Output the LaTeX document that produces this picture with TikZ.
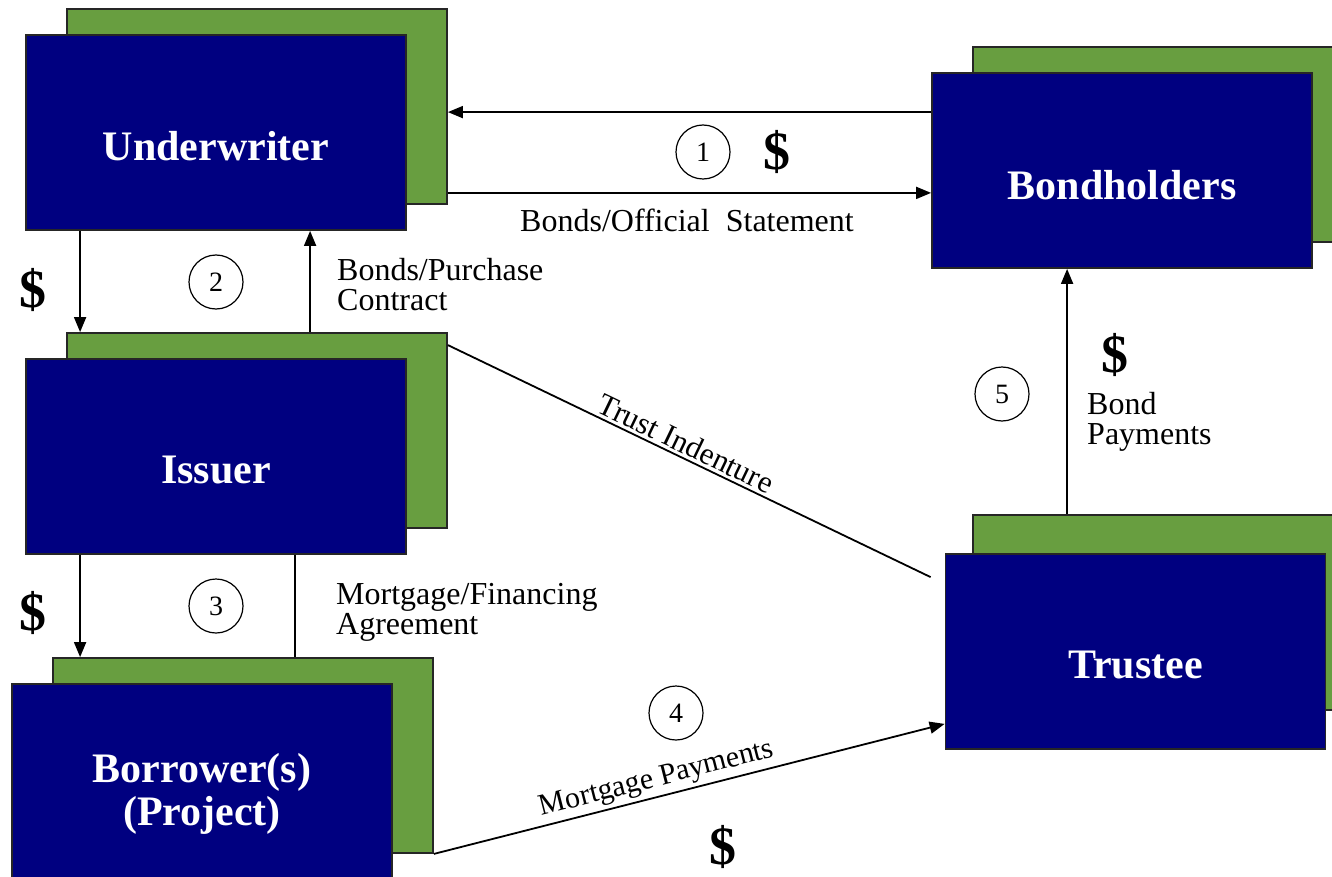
\documentclass[tikz,border=0pt]{standalone}
\usepackage{fontspec}
\setmainfont{Liberation Serif}
\usetikzlibrary{arrows.meta}
\definecolor{navybox}{RGB}{0,0,128}
\definecolor{greenbox}{RGB}{104,158,64}
\tikzset{
  frontbox/.style={draw=black!85, line width=1.8pt, fill=navybox, minimum width=380pt, minimum height=195pt, inner sep=0pt},
  backbox/.style={draw=black!85, line width=1.8pt, fill=greenbox, minimum width=380pt, minimum height=195pt, inner sep=0pt},
  boxtext/.style={text=white, font=\fontsize{42}{43}\selectfont\bfseries, align=center, inner sep=0pt},
  lbl/.style={font=\fontsize{32}{30}\selectfont, align=left, inner sep=0pt},
  dollar/.style={font=\fontsize{54}{54}\selectfont\bfseries, inner sep=0pt},
  numc/.style={draw, circle, line width=1.2pt, minimum size=54pt, inner sep=0pt, font=\fontsize{28}{28}\selectfont},
  conn/.style={line width=1.8pt, draw=black},
  arr/.style={conn, -{Triangle[length=15pt,width=12pt]}}
}
\begin{document}
\begin{tikzpicture}[x=1pt,y=-1pt]
\useasboundingbox (0,0) rectangle (1332,877);
\clip (0,0) rectangle (1332,877);
% boxes
\node[backbox] (uwg) at (257,106.5) {};
\node[frontbox] (uw) at (216,132.5) {};
\node[boxtext] (uwt) at (216,146) {Underwriter};
\node[backbox] (bhg) at (1163,144.5) {};
\node[frontbox] (bh) at (1122,170.5) {};
\node[boxtext] (bht) at (1122,185) {Bondholders};
\node[backbox] (isg) at (257,430.5) {};
\node[frontbox] (is) at (216,456.5) {};
\node[boxtext] (ist) at (216,470) {Issuer};
\node[backbox] (bog) at (243,755.5) {};
\node[frontbox] (bo) at (202,781.5) {};
\node[boxtext] (bot) at (202,794) {Borrower(s)\\(Project)};
\node[backbox] (trg) at (1163,612.5) {};
\node[frontbox] (tr) at (1135.5,651.5) {};
\node[boxtext] (trt) at (1135.5,665) {Trustee};
% connectors
\draw[arr] ([yshift=-40pt]bh.north west) -- ([yshift=-40pt]bh.north west -| uwg.east);
\draw[arr] ([yshift=12pt]uwg.south east) -- ([yshift=12pt]uwg.south east -| bh.west);
\draw[arr] ([xshift=55pt]uw.south west) -- ([xshift=55pt]uw.south west |- isg.north);
\draw[arr] ([xshift=285pt]uw.south west |- isg.north) -- ([xshift=285pt]uw.south west);
\draw[arr] ([xshift=55pt]is.south west) -- ([xshift=55pt]is.south west |- bog.north);
\draw[conn] ([xshift=270pt]is.south west) -- ([xshift=270pt]is.south west |- bog.north);
\draw[conn] ([yshift=-13pt]isg.north east) -- node[sloped, above, pos=0.48, inner sep=3pt, font=\fontsize{31}{31}\selectfont] (tilbl) {Trust Indenture} ([xshift=-14pt,yshift=-24pt]tr.north west);
\draw[arr] (bog.south east) -- node[sloped, above, pos=0.445, inner sep=3pt, font=\fontsize{30}{30}\selectfont] (mplbl) {Mortgage Payments} ([yshift=26pt]tr.south west);
\draw[arr] ([xshift=136pt]bh.south west |- trg.north) -- ([xshift=136pt]bh.south west);
% number circles
\node[numc] (c1) at (703,152) {1};
\node[numc] (c2) at (216,282) {2};
\node[numc] (c3) at (216,606) {3};
\node[numc] (c4) at (676,713) {4};
\node[numc] (c5) at (1002,394) {5};
% dollars
\node[dollar] (d1) at (777,152) {\$};
\node[dollar] (d2) at (33,290) {\$};
\node[dollar] (d3) at (33,613) {\$};
\node[dollar] (d4) at (723,847) {\$};
\node[dollar] (d5) at (1115,355) {\$};
% labels
\node[lbl] (l1) at (687,220) {Bonds/Official\ \ Statement};
\node[lbl, anchor=west] (l2) at (337,285) {Bonds/Purchase\\Contract};
\node[lbl, anchor=west] (l3) at (336,612) {Mortgage/Financing\\Agreement};
\node[lbl, anchor=west] (l5) at (1087,422) {Bond\\Payments};
\end{tikzpicture}
\end{document}
